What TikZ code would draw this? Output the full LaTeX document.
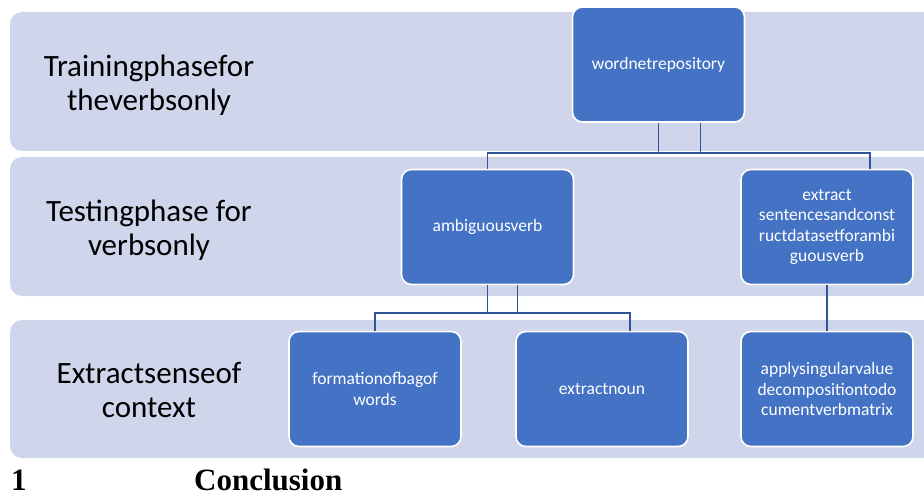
\documentclass[tikz,border=0pt]{standalone}
\usepackage{fontspec}
\setmainfont{Carlito}
\newfontfamily\headfont{Liberation Serif}
\usetikzlibrary{calc,positioning}
\definecolor{bandfill}{RGB}{207,213,234}
\definecolor{boxfill}{RGB}{68,114,196}
\definecolor{linkblue}{RGB}{47,85,151}

\begin{document}
\begin{tikzpicture}[x=1pt, y=-1pt,
  band/.style={fill=bandfill, rounded corners=12pt},
  phase/.style={font=\fontsize{31}{34}\selectfont, align=center, text=black},
  stepbox/.style={draw=white, line width=1.6pt, fill=boxfill, rounded corners=10pt,
    minimum width=172pt, minimum height=115pt, align=center, text=white,
    font=\fontsize{17.5}{20.3}\selectfont, inner sep=2pt},
  conn/.style={draw=linkblue, line width=1.8pt},
  heading/.style={font=\headfont\bfseries\fontsize{31}{36}\selectfont, anchor=base west, inner sep=0pt}
]
\useasboundingbox (0,0) rectangle (924,497);
\clip (0,0) rectangle (924,497);
% Phase bands, running off the right edge
\fill[band] (10,12) rectangle (940,151);
\fill[band] (10,157) rectangle (940,296);
\fill[band] (10,320) rectangle (940,458);
\node[phase] (train) at (149,85) {Trainingphasefor\\theverbsonly};
\node[phase] (test) at (149,230) {Testingphase for\\verbsonly};
\node[phase] (sense) at (149,390) {Extractsenseof\\context};
% Step boxes
\node[stepbox] (wordnet) at (658.5,64.5) {wordnetrepository};
\node[stepbox] (ambig) at (487.5,227) {ambiguousverb};
\node[stepbox] (extract) at (827,227) {extract\\sentencesandconst\\ructdatasetforambi\\guousverb};
\node[stepbox] (bag) at (375,389) {formationofbagof\\words};
\node[stepbox] (noun) at (602,389) {extractnoun};
\node[stepbox] (svd) at (827,389) {applysingularvalue\\decompositiontodo\\cumentverbmatrix};
% Connectors: bus lines under each parent
\coordinate (topbus) at (0,153);
\coordinate (midbus) at (0,313);
\draw[conn] (wordnet.south) -- (wordnet.south |- topbus);
\draw[conn] ([xshift=42pt]wordnet.south) -- ([xshift=42pt]wordnet.south |- topbus);
\draw[conn] (ambig.north) |- ([xshift=43pt]extract.north |- topbus) -- ([xshift=43pt]extract.north);
\draw[conn] (ambig.south) -- (ambig.south |- midbus);
\draw[conn] ([xshift=30pt]ambig.south) -- ([xshift=30pt]ambig.south |- midbus);
\draw[conn] (bag.north) |- ([xshift=28pt]noun.north |- midbus) -- ([xshift=28pt]noun.north);
\draw[conn] (extract.south) -- (svd.north);
% Section heading below the figure
\node[heading] (secnum) at (11,490) {1};
\node[heading] (sectitle) at (194,490) {Conclusion};
\end{tikzpicture}
\end{document}
